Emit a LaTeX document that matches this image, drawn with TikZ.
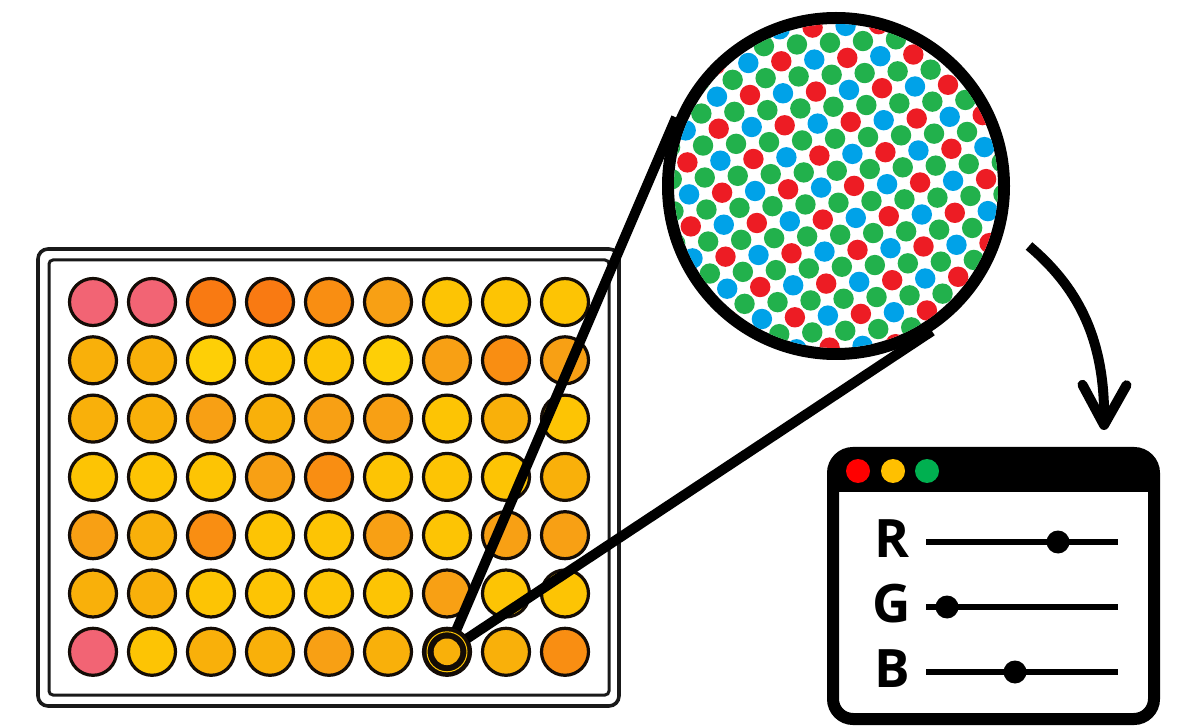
\documentclass[tikz,border=0pt]{standalone}
\usepackage{fontspec}
\newfontfamily\chanfont{Open Sans}
\usetikzlibrary{calc,arrows.meta}

% well colours
\definecolor{wP}{HTML}{F26474}
\definecolor{wO1}{HTML}{F97A12}
\definecolor{wO2}{HTML}{F98E12}
\definecolor{wO3}{HTML}{F8A014}
\definecolor{wY1}{HTML}{F9B00A}
\definecolor{wY2}{HTML}{FDC404}
\definecolor{wY3}{HTML}{FECF06}
\definecolor{rim}{HTML}{140C06}
% sensor pixels
\definecolor{px0}{RGB}{237,28,36}
\definecolor{px1}{RGB}{34,177,76}
\definecolor{px2}{RGB}{34,177,76}
\definecolor{px3}{RGB}{0,162,232}
% window buttons
\definecolor{lampR}{HTML}{FF0000}
\definecolor{lampY}{HTML}{FFC000}
\definecolor{lampG}{HTML}{00B050}

\begin{document}
\begin{tikzpicture}[x=1pt, y=-1pt,
    well/.style={circle, draw=rim, line width=3.2pt, minimum size=47pt, inner sep=0pt},
    lens/.style={circle, draw, line width=12pt, minimum size=336pt, inner sep=0pt},
    zoomline/.style={line width=10pt},
    win/.style={draw, line width=12pt, rounded corners=20pt, minimum width=321pt, minimum height=266pt, inner sep=0pt},
    lamp/.style={circle, minimum size=24pt, inner sep=0pt},
    chan/.style={font=\chanfont\bfseries\fontsize{53}{53}\selectfont, inner sep=0pt},
    track/.style={line width=6pt},
    knob/.style={circle, fill, minimum size=23pt, inner sep=0pt},
    flow/.style={line width=10pt, -{Straight Barb[length=40pt, width=44pt, line cap=round, line join=round]}}]

\useasboundingbox (0,0) rectangle (1179,727);

% plate
\draw[black!90, line width=3.6pt, rounded corners=10pt] (38,249) rectangle (619,706);
\draw[black!90, line width=3pt, rounded corners=4pt] (49,260) rectangle (609,695);

\foreach \row [count=\rw] in {{P,P,O1,O1,O2,O3,Y2,Y2,Y2},
                              {Y1,Y1,Y3,Y2,Y2,Y3,O3,O2,O3},
                              {Y1,Y1,O3,Y1,O3,O3,Y2,Y1,Y2},
                              {Y2,Y2,Y2,O3,O2,Y2,Y2,Y2,Y1},
                              {O3,Y1,O2,Y2,Y2,O3,Y2,O3,O3},
                              {Y1,Y1,Y2,Y2,Y2,Y2,O3,Y2,Y2},
                              {P,Y2,Y1,Y1,O3,Y1,Y1,Y1,O2}}
  \foreach \c [count=\cl] in \row
    \node[well, fill=w\c] (w-\rw-\cl) at ({93+59*(\cl-1)}, {302+58.3*(\rw-1)}) {};

% magnified sensor
\node[lens] (lens) at (836,186) {};
\begin{scope}
  \clip (lens.center) circle (162pt);
  \foreach \i in {-3,...,14}
    \foreach \j in {-9,...,9} {
      \pgfmathtruncatemacro{\k}{mod(\i+20,2)+2*mod(\j+20,2)}
      \fill[px\k] ({750+17.35*\i+15.65*\j}, {95+15.15*\i-16.85*\j}) circle (10.2pt);
    }
\end{scope}

\draw[zoomline] (w-7-7.center) -- (tangent cs:node=lens, point={(w-7-7.center)}, solution=1);
\draw[zoomline] (w-7-7.center) -- (tangent cs:node=lens, point={(w-7-7.center)}, solution=2);

% picked well
\node[circle, fill=rim, minimum size=48pt, inner sep=0pt] (sel) at (w-7-7) {};
\draw[wY2, line width=1pt] (sel) circle (20pt);
\fill[wY1] (sel) circle (13.3pt);

% app window
\node[win] (win) at (993.5,586) {};
\fill ([shift={(12pt,-12pt)}]win.north west) rectangle ([shift={(-12pt,-45pt)}]win.north east);
\foreach \lc/\x in {R/858, Y/893, G/927}
  \node[lamp, fill=lamp\lc] (lamp\lc) at (\x,471) {};

\foreach \ch/\y/\kx in {R/542/1058, G/607/947, B/672/1015} {
  \node[chan] (lbl\ch) at (892,\y-3) {\ch};
  \coordinate (t\ch-a) at (926,\y);
  \coordinate (t\ch-b) at (1118,\y);
  \draw[track] (t\ch-a) -- (t\ch-b);
  \node[knob] (knob\ch) at (\kx,\y) {};
}

\coordinate (flowA) at (1029,246);
\coordinate (flowB) at (1104,430);
\draw[flow] (flowA) .. controls (1075,285) and (1105,335) .. (flowB);
\end{tikzpicture}
\end{document}
